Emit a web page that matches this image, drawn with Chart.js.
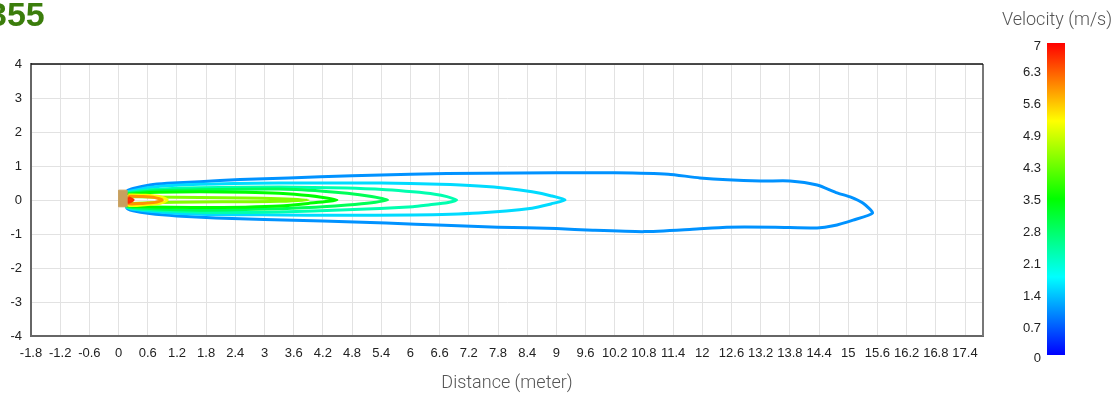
<!DOCTYPE html>
<html>
<head>
<meta charset="utf-8">
<script src="https://cdn.jsdelivr.net/npm/chart.js@4.4.1/dist/chart.umd.min.js"></script>
<style>
  html, body { margin: 0; padding: 0; background: #fff; }
  #wrap { position: relative; width: 1120px; height: 398px; overflow: hidden; }
  #plume { position: absolute; left: 0; top: 0; }
  #tag { position: absolute; left: -12px; top: -5px; font: bold 34px "Liberation Sans", Arial, sans-serif; color: #3b7d0c; }
</style>
</head>
<body>
<div id="wrap">
  <canvas id="plume" width="1120" height="398"></canvas>
  <div id="tag">355</div>
</div>
<script>
// axis ticks
const xTicks = [-1.8, -1.2, -0.6, 0, 0.6, 1.2, 1.8, 2.4, 3, 3.6, 4.2, 4.8, 5.4, 6, 6.6, 7.2, 7.8, 8.4, 9,
  9.6, 10.2, 10.8, 11.4, 12, 12.6, 13.2, 13.8, 14.4, 15, 15.6, 16.2, 16.8, 17.4];
const xTickLabels = ['-1.8', '-1.2', '-0.6', '0', '0.6', '1.2', '1.8', '2.4', '3', '3.6', '4.2', '4.8', '5.4', '6',
  '6.6', '7.2', '7.8', '8.4', '9', '9.6', '10.2', '10.8', '11.4', '12', '12.6', '13.2', '13.8', '14.4', '15',
  '15.6', '16.2', '16.8', '17.4'];
const yTicks = [-4, -3, -2, -1, 0, 1, 2, 3, 4];

// colour scale ticks (m/s)
const cbarTicks = [0, 0.7, 1.4, 2.1, 2.8, 3.5, 4.2, 4.9, 5.6, 6.3, 7];
const cbarLabels = ['0', '0.7', '1.4', '2.1', '2.8', '3.5', '4.3', '4.9', '5.6', '6.3', '7'];

// iso-velocity levels, innermost first
const levels = [6.7, 6.0, 5.2, 4.4, 3.5, 2.9, 2.3, 1.5, 1.0];

// contour outlines [distance m, lateral m]
const c67 = [[0.2, 0.07], [0.3, 0.0], [0.2, -0.07]];
const c60 = [[0.2, 0.11], [0.5, 0.1], [0.75, 0.07], [0.9, 0.0], [0.75, -0.07], [0.5, -0.1], [0.2, -0.11]];
const c52 = [[0.2, 0.15], [0.55, 0.14], [0.85, 0.1], [1.0, 0.0], [0.85, -0.1], [0.55, -0.14], [0.2, -0.15]];
const c44 = [[0.2, 0.1], [0.64, 0.09], [1.67, 0.07], [2.6, 0.06], [3.3, 0.04], [3.9, 0.0],
  [3.3, -0.04], [2.6, -0.05], [1.67, -0.06], [0.64, -0.08], [0.2, -0.09]];
const c35 = [[0.17, 0.16], [0.64, 0.22], [1.67, 0.24], [2.6, 0.23], [3.3, 0.2], [3.9, 0.13], [4.49, 0.0],
  [3.9, -0.1], [3.3, -0.18], [2.6, -0.21], [1.67, -0.22], [0.64, -0.2], [0.17, -0.15]];
const c29 = [[0.17, 0.19], [0.64, 0.26], [1.67, 0.3], [3.3, 0.32], [4.2, 0.26], [4.7, 0.2], [5.2, 0.1], [5.53, 0.0],
  [5.2, -0.08], [4.7, -0.15], [4.2, -0.2], [3.3, -0.26], [1.67, -0.3], [0.64, -0.25], [0.17, -0.18]];
const c23 = [[0.17, 0.21], [0.64, 0.3], [1.67, 0.36], [3.3, 0.38], [4.7, 0.35], [5.5, 0.3], [6.05, 0.24],
  [6.5, 0.17], [6.75, 0.1], [6.95, 0.0], [6.75, -0.08], [6.4, -0.14], [6.05, -0.2], [4.7, -0.29],
  [3.3, -0.35], [1.67, -0.36], [0.64, -0.29], [0.17, -0.2]];
const c15 = [[0.17, 0.24], [0.64, 0.37], [1.67, 0.46], [3.3, 0.5], [5.4, 0.5], [6.6, 0.46], [7.4, 0.41],
  [8.0, 0.34], [8.5, 0.24], [8.9, 0.12], [9.18, 0.0], [8.9, -0.11], [8.5, -0.24], [7.4, -0.38],
  [6.05, -0.44], [4.5, -0.45], [3.3, -0.44], [1.67, -0.42], [0.64, -0.33], [0.17, -0.22]];
const c10 = [[0.17, 0.27], [0.3, 0.34], [0.64, 0.44], [1.0, 0.49], [1.67, 0.54], [2.5, 0.6], [3.5, 0.65],
  [4.8, 0.71], [6.0, 0.76], [7.5, 0.79], [9.0, 0.8], [10.2, 0.8], [11.3, 0.76], [11.95, 0.65], [13.2, 0.56],
  [13.8, 0.56], [14.36, 0.44], [14.77, 0.21], [15.04, 0.09], [15.3, -0.09], [15.5, -0.38], [15.1, -0.59],
  [14.69, -0.76], [14.36, -0.82], [13.5, -0.8], [12.5, -0.8], [11.8, -0.86], [10.8, -0.93], [9.75, -0.89],
  [9.0, -0.84], [7.8, -0.8], [6.7, -0.74], [5.5, -0.68], [4.2, -0.62], [3.0, -0.57], [2.0, -0.53],
  [1.2, -0.47], [0.64, -0.4], [0.3, -0.32], [0.17, -0.24]];
const contours = [c67, c60, c52, c44, c35, c29, c23, c15, c10];

// nozzle outlet block
const nozzle = [[0, 0.29], [0.17, 0.29], [0.17, -0.2], [0, -0.2]];

// blue - cyan - green - yellow - red ramp over 0..7 m/s
const rampStops = [[0, [0, 0, 255]], [1.75, [0, 255, 255]], [3.5, [0, 255, 0]], [5.25, [255, 255, 0]], [7, [255, 0, 0]]];
function ramp(v) {
  for (let i = 1; i < rampStops.length; i++) {
    const [v1, c1] = rampStops[i];
    const [v0, c0] = rampStops[i - 1];
    if (v <= v1) {
      const t = (v - v0) / (v1 - v0);
      const c = c0.map((a, k) => Math.round(a + (c1[k] - a) * t));
      return `rgb(${c.join(',')})`;
    }
  }
  return 'rgb(255,0,0)';
}

const toPts = arr => arr.map(([x, y]) => ({ x, y }));
const closed = arr => toPts(arr.concat([arr[0]]));

const datasets = [{
  data: closed(nozzle),
  showLine: true,
  fill: 'shape',
  backgroundColor: '#c8a05f',
  borderColor: '#c8a05f',
  borderWidth: 1,
  pointRadius: 0
}];
contours.forEach((c, i) => {
  datasets.push({
    data: closed(c),
    showLine: true,
    fill: false,
    borderColor: ramp(levels[i]),
    borderWidth: 3,
    tension: 0.2,
    pointRadius: 0
  });
});

const tickFont = { family: '"Liberation Sans", Arial, sans-serif', size: 13 };

const colorbar = {
  id: 'colorbar',
  beforeDatasetsDraw(chart) {
    const { ctx, chartArea: a } = chart;
    ctx.save();
    ctx.strokeStyle = '#777';
    ctx.lineWidth = 2;
    ctx.beginPath();
    ctx.moveTo(a.right, a.top);
    ctx.lineTo(a.right, a.bottom);
    ctx.stroke();
    ctx.strokeStyle = '#111';
    ctx.lineWidth = 1.5;
    ctx.beginPath();
    ctx.moveTo(a.left, a.top);
    ctx.lineTo(a.right, a.top);
    ctx.stroke();
    ctx.restore();
  },
  afterDraw(chart) {
    const ctx = chart.ctx;
    const x = 1047, w = 18, top = 43, bottom = 355;
    // label scale runs a little past the bar; end labels are kept inside it
    const lblTop = 40, lblBottom = 361;
    const g = ctx.createLinearGradient(0, bottom, 0, top);
    rampStops.forEach(([v, c]) => g.addColorStop(v / 7, `rgb(${c.join(',')})`));
    ctx.save();
    ctx.fillStyle = g;
    ctx.fillRect(x, top, w, bottom - top);
    ctx.font = '13px "Liberation Sans", Arial, sans-serif';
    ctx.fillStyle = '#222';
    ctx.textAlign = 'right';
    ctx.textBaseline = 'middle';
    cbarTicks.forEach((v, i) => {
      const y = lblBottom - v / 7 * (lblBottom - lblTop);
      ctx.fillText(cbarLabels[i], x - 6, Math.min(358, Math.max(46, y)));
    });
    ctx.font = '300 18px Roboto, sans-serif';
    ctx.fillStyle = '#555';
    ctx.textAlign = 'center';
    ctx.fillText('Velocity (m/s)', 1057, 20);
    ctx.restore();
  }
};

new Chart(document.getElementById('plume'), {
  type: 'scatter',
  data: { datasets },
  plugins: [colorbar],
  options: {
    responsive: false,
    animation: false,
    layout: { padding: { left: 0, top: 64, right: 137, bottom: 0 } },
    plugins: { legend: { display: false }, tooltip: { enabled: false } },
    scales: {
      x: {
        type: 'linear',
        min: -1.8,
        max: 17.77,
        afterBuildTicks: s => { s.ticks = xTicks.map(v => ({ value: v })); },
        afterFit: s => { s.height = 62; },
        ticks: {
          autoSkip: false,
          maxRotation: 0,
          padding: 10,
          color: '#222',
          font: tickFont,
          callback: (v, i) => xTickLabels[i]
        },
        grid: { color: '#e2e2e2', drawTicks: false },
        border: { color: '#666', width: 2 },
        title: {
          display: true,
          text: 'Distance (meter)',
          color: '#555',
          font: { family: 'Roboto, sans-serif', size: 18, weight: 300 },
          padding: { top: 0, bottom: 4 }
        }
      },
      y: {
        type: 'linear',
        min: -4,
        max: 4,
        afterBuildTicks: s => { s.ticks = yTicks.map(v => ({ value: v })); },
        afterFit: s => { s.width = 31; },
        ticks: { padding: 9, color: '#222', font: tickFont },
        grid: { color: '#e2e2e2', drawTicks: false },
        border: { color: '#666', width: 2 }
      }
    }
  }
});
</script>
</body>
</html>
